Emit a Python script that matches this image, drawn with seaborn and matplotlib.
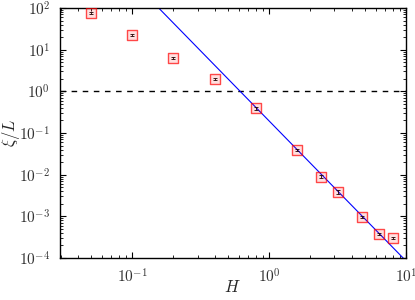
import matplotlib
matplotlib.use("Agg")
import matplotlib.pyplot as plt
import seaborn as sns
import numpy as np
import pandas as pd
from matplotlib.ticker import LogLocator, NullFormatter, FuncFormatter

# Data
H = [0.05, 0.1, 0.2, 0.4, 0.8, 1.6, 2.4, 3.2, 4.8, 6.4, 8.0]
xi_L = [76, 22.5, 6.4, 2.0, 0.39, 0.039, 0.009, 0.0039, 0.00098, 0.00037, 0.0003]
xi_err = [5, 1.5, 0.4, 0.12, 0.025, 0.0025, 0.0006, 0.0005, 0.00006, 0.00002, 0.00002]

# Power-law fit line endpoints
fit_H = [0.1, 10.0]
fit_xi = [447.0, 8.5e-5]

sns.set_theme(style="ticks")
plt.rcParams["mathtext.fontset"] = "cm"
plt.rcParams["font.family"] = ["DejaVu Serif"]

df = pd.DataFrame({"H": H, "xi": xi_L, "err": xi_err})
fit = pd.DataFrame({"H": fit_H, "xi": fit_xi})

fig = plt.figure(figsize=(4.15, 3.0), dpi=100)
ax = fig.add_axes([60 / 415, 42 / 300, 346 / 415, 250 / 300])

ax.set_xscale("log")
ax.set_yscale("log")

sns.lineplot(data=fit, x="H", y="xi", ax=ax, color="#0000ff", lw=0.8, zorder=2)
ax.axhline(1.0, color="black", ls=(0, (4, 4)), lw=1.0, zorder=1)
ax.errorbar(df["H"], df["xi"], yerr=df["err"], fmt="none", ecolor="black",
            elinewidth=0.6, capsize=1.2, capthick=0.6, zorder=3)
sns.scatterplot(data=df, x="H", y="xi", ax=ax, marker="s", s=42,
                facecolor=(1, 0, 0, 0.12), edgecolor=(1, 0, 0, 0.7),
                linewidth=1.0, zorder=4)

ax.set_xlim(0.0297, 10)
ax.set_ylim(1e-4, 1e2)

fmt = FuncFormatter(lambda v, p: r"$10^{%d}$" % int(round(np.log10(v))))
for axis in (ax.xaxis, ax.yaxis):
    axis.set_major_locator(LogLocator(base=10, numticks=10))
    axis.set_minor_locator(LogLocator(base=10, subs=np.arange(2, 10), numticks=10))
    axis.set_minor_formatter(NullFormatter())
    axis.set_major_formatter(fmt)

ax.tick_params(which="both", direction="in", top=True, right=True,
               labelsize=11, color="black")
ax.tick_params(which="major", length=4, width=0.8)
ax.tick_params(axis="x", which="major", pad=7)
ax.tick_params(axis="y", which="major", pad=7)
ax.tick_params(which="minor", length=2, width=0.6)
for lab in ax.get_xticklabels() + ax.get_yticklabels():
    lab.set_color("#333333")

for sp in ax.spines.values():
    sp.set_linewidth(1.0)
    sp.set_color("black")

ax.set_xlabel(r"$H$", fontsize=12)
ax.set_ylabel(r"$\xi/L$", fontsize=12)
ax.xaxis.set_label_coords(0.497, -0.085)
ax.yaxis.set_label_coords(-0.11, 0.5)

fig.savefig("out.png", dpi=100)
